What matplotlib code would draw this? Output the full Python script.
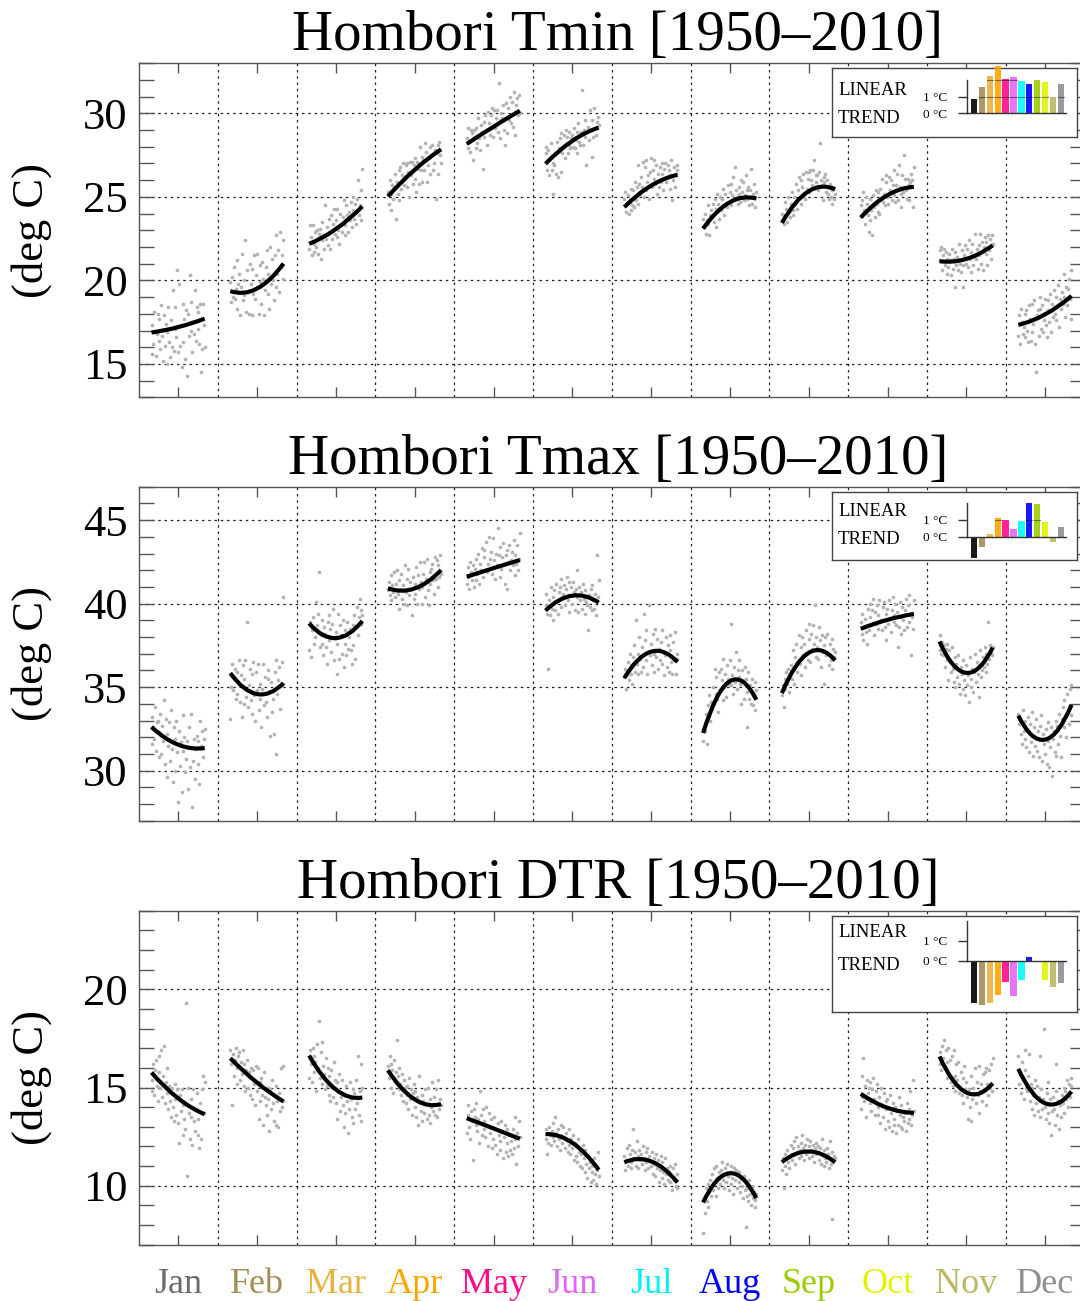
import numpy as np
import matplotlib
matplotlib.use("Agg")
import matplotlib.pyplot as plt
from matplotlib.ticker import MultipleLocator
from matplotlib.path import Path
from matplotlib.patches import PathPatch

plt.rcParams['font.family'] = ['Liberation Serif', 'DejaVu Serif']

MONTHS = ["Jan", "Feb", "Mar", "Apr", "May", "Jun",
          "Jul", "Aug", "Sep", "Oct", "Nov", "Dec"]
BAR_COLORS = ["#000000", "#a38d55", "#e9b13f", "#ffa500", "#ff0a88", "#e066f5",
              "#00ffff", "#0000ff", "#9acd00", "#e2f200", "#bdb863", "#909090"]
LABEL_COLORS = ["#6b6b6b", "#a38d55", "#e9b13f", "#ffa500", "#ff0a88", "#e066f5",
                "#00f0f0", "#0000ff", "#9acd00", "#e2f200", "#bdb863", "#909090"]

YEARS = list(range(1950, 2011))
FIT_YEARS = [1950, 1980, 2010]

# monthly means per year (deg C), one list per month
TMIN_OBS = [
    [15.6, 17.3, 16.2, 18.1, 17.0, 15.5, 16.8, 18.0, 16.4, 17.7, 15.9, 18.5, 16.7, 15.2, 17.9, 16.1, 17.4, 15.0, 16.9, 18.4,
     16.3, 15.4, 17.6, 16.0, 19.4, 15.8, 18.4, 17.1, 16.6, 20.6, 15.7, 19.8, 16.1, 17.3, 14.8, 18.6, 16.3, 17.7, 15.3, 18.2,
     14.3, 18.0, 16.7, 20.3, 17.0, 18.7, 15.7, 17.5, 16.8, 19.4, 16.4, 18.4, 17.1, 18.1, 16.2, 18.6, 14.5, 15.9, 18.6, 17.3, 16.0],
    [19.9, 18.7, 20.2, 19.0, 20.8, 18.9, 19.5, 21.2, 18.3, 19.8, 20.4, 17.9, 19.6, 21.6, 18.8, 20.0, 19.1, 22.4, 18.1, 20.6,
     19.3, 18.0, 21.0, 19.8, 17.9, 20.7, 19.2, 21.5, 18.9, 20.3, 21.6, 19.6, 18.0, 20.9, 19.9, 18.6, 21.1, 20.1, 17.9, 19.4,
     20.8, 21.8, 19.2, 20.4, 18.3, 22.0, 19.8, 21.3, 20.0, 18.8, 21.5, 19.6, 22.7, 20.4, 21.8, 19.3, 22.9, 20.8, 21.5, 20.1, 22.4],
    [21.9, 23.3, 22.6, 21.5, 23.3, 22.2, 21.7, 22.9, 22.0, 23.0, 21.6, 22.8, 23.1, 21.3, 22.4, 23.5, 22.7, 21.9, 24.5, 22.5,
     23.2, 22.1, 23.7, 22.9, 21.9, 23.9, 22.5, 23.4, 24.3, 22.8, 23.6, 22.6, 24.3, 23.0, 22.2, 24.0, 23.4, 22.9, 23.8, 24.8,
     23.3, 22.7, 24.5, 23.9, 22.9, 24.1, 23.6, 24.7, 23.2, 24.2, 25.0, 23.7, 24.6, 23.4, 24.9, 26.0, 23.9, 24.5, 25.4, 23.6, 26.7],
    [25.3, 24.6, 26.0, 25.2, 24.2, 25.7, 24.9, 25.6, 26.4, 23.7, 25.9, 25.2, 26.6, 24.8, 26.8, 25.5, 26.3, 27.0, 25.7, 26.2,
     26.9, 25.6, 27.0, 26.5, 25.0, 27.1, 26.3, 27.1, 25.8, 26.9, 26.1, 27.3, 25.3, 27.1, 26.7, 25.8, 28.0, 26.6, 27.4, 25.9,
     27.2, 26.6, 28.2, 27.7, 25.9, 26.9, 27.3, 28.0, 26.4, 27.5, 28.1, 26.6, 27.0, 27.8, 24.9, 27.6, 28.1, 26.4, 28.3, 27.5, 27.0],
    [28.5, 27.9, 29.1, 28.3, 27.7, 29.0, 28.8, 27.2, 29.0, 28.6, 29.1, 27.9, 28.2, 29.7, 28.5, 27.8, 29.3, 28.9, 26.7, 29.5,
     28.6, 29.9, 29.0, 28.1, 30.1, 29.4, 28.7, 29.9, 30.3, 29.2, 28.6, 30.2, 29.1, 29.7, 30.2, 28.9, 31.8, 29.6, 28.5, 30.0,
     29.7, 30.5, 29.0, 28.1, 30.6, 29.8, 28.8, 30.3, 29.6, 31.0, 29.4, 30.7, 29.2, 31.3, 30.1, 28.7, 30.5, 30.9, 29.9, 31.1, 30.0],
    [28.0, 27.6, 26.6, 27.8, 26.3, 27.3, 28.2, 26.6, 25.2, 27.0, 26.9, 27.6, 26.4, 28.3, 26.2, 27.9, 28.5, 26.5, 28.8, 27.6,
     28.0, 28.7, 27.3, 29.0, 28.6, 27.6, 28.9, 28.1, 27.9, 28.5, 28.7, 28.0, 29.1, 27.9, 28.4, 28.9, 27.6, 29.4, 28.3, 28.1,
     28.9, 31.4, 28.1, 29.0, 28.6, 29.6, 26.9, 28.9, 29.2, 28.4, 30.2, 29.0, 27.4, 29.6, 28.6, 30.3, 29.1, 28.7, 29.5, 29.8, 29.3],
    [24.9, 25.3, 24.1, 24.6, 25.1, 24.0, 24.7, 25.5, 24.2, 24.5, 25.4, 24.4, 25.9, 24.8, 25.6, 26.9, 24.6, 25.8, 25.2, 26.2,
     25.6, 27.1, 25.0, 26.8, 25.4, 27.2, 25.9, 26.3, 24.9, 26.5, 27.3, 25.6, 26.6, 26.1, 27.2, 25.8, 26.9, 25.2, 26.4, 25.6,
     26.8, 25.9, 27.0, 26.4, 25.4, 26.7, 27.0, 25.9, 26.2, 26.9, 26.6, 25.5, 26.3, 27.2, 24.8, 26.0, 26.8, 25.6, 26.4, 26.9, 26.6],
    [23.7, 23.2, 24.0, 22.8, 23.6, 24.5, 23.4, 22.7, 23.9, 24.2, 23.8, 24.6, 23.5, 24.9, 23.2, 24.3, 25.2, 24.6, 23.7, 25.0,
     24.2, 24.9, 24.5, 25.5, 23.9, 25.2, 24.6, 24.4, 25.7, 24.7, 25.3, 25.8, 24.5, 25.1, 26.2, 24.9, 26.8, 25.4, 25.0, 24.6,
     25.6, 25.2, 24.7, 26.0, 25.3, 25.9, 24.8, 25.1, 26.3, 25.4, 24.9, 25.6, 24.5, 25.4, 26.7, 24.6, 25.2, 25.8, 24.4, 25.0, 25.3],
    [24.0, 23.6, 23.4, 24.7, 23.9, 24.3, 23.5, 25.0, 24.1, 23.8, 24.6, 25.3, 24.2, 23.9, 25.0, 24.6, 25.8, 24.3, 25.4, 26.2,
     25.0, 26.0, 24.6, 25.6, 26.4, 25.1, 24.9, 26.5, 25.5, 26.1, 26.5, 25.3, 26.6, 26.0, 25.7, 26.6, 27.2, 25.6, 26.3, 25.9,
     26.3, 25.4, 26.5, 28.2, 26.0, 25.7, 24.8, 26.2, 25.9, 26.4, 25.3, 26.0, 25.2, 24.9, 25.8, 25.0, 24.6, 25.4, 25.6, 24.9, 25.2],
    [24.5, 23.9, 24.8, 25.3, 24.2, 23.4, 25.0, 24.6, 23.9, 22.9, 23.6, 24.9, 24.2, 22.7, 25.1, 24.4, 23.8, 25.4, 24.6, 24.1,
     25.3, 24.0, 25.5, 24.9, 26.1, 24.7, 25.2, 24.5, 25.9, 26.3, 25.0, 24.6, 26.2, 25.4, 26.0, 24.8, 25.7, 26.6, 25.1, 24.7,
     25.7, 26.4, 24.8, 26.9, 25.6, 25.2, 24.4, 26.3, 25.3, 27.5, 26.1, 25.4, 24.9, 26.1, 25.7, 24.8, 25.9, 26.4, 26.0, 24.4, 26.8],
    [21.8, 21.2, 22.0, 20.6, 21.5, 21.9, 20.9, 21.7, 20.4, 21.3, 20.8, 21.6, 21.2, 20.3, 21.9, 20.7, 21.3, 19.6, 21.7, 20.9,
     21.4, 20.6, 22.2, 21.0, 20.5, 21.8, 20.9, 19.6, 21.5, 22.1, 21.0, 21.9, 20.8, 22.4, 21.3, 20.5, 21.7, 22.2, 20.9, 21.4,
     22.8, 21.3, 21.9, 20.7, 22.1, 21.5, 22.8, 21.0, 22.3, 20.6, 22.0, 22.6, 21.6, 22.3, 20.9, 22.7, 21.8, 22.5, 21.3, 22.7, 22.2],
    [16.7, 17.9, 16.2, 18.3, 17.5, 16.8, 17.2, 18.0, 16.6, 18.2, 17.0, 16.3, 18.5, 17.7, 16.4, 18.6, 16.9, 17.4, 18.8, 16.2,
     14.5, 17.9, 18.2, 16.7, 18.3, 19.0, 17.1, 18.5, 16.9, 17.6, 18.9, 17.3, 16.6, 18.8, 18.2, 17.5, 19.2, 16.9, 18.6, 17.8,
     19.4, 18.0, 17.6, 19.0, 18.4, 19.7, 17.2, 18.9, 18.3, 19.3, 18.6, 20.4, 19.0, 17.8, 19.6, 18.5, 19.5, 20.1, 18.9, 17.7, 20.6],
]

TMAX_OBS = [
    [31.6, 33.2, 32.6, 31.9, 33.8, 31.2, 32.9, 33.0, 30.8, 32.3, 33.4, 31.0, 32.7, 31.8, 34.2, 30.4, 33.1, 32.2, 29.6, 31.5,
     32.9, 30.6, 33.6, 31.3, 29.3, 32.6, 31.9, 30.0, 33.0, 31.1, 28.1, 32.4, 30.3, 31.7, 28.7, 33.3, 31.2, 32.0, 29.9, 30.7,
     31.8, 28.9, 32.6, 30.2, 31.4, 33.4, 27.8, 30.6, 31.9, 29.5, 31.3, 32.1, 30.4, 31.8, 29.2, 33.0, 31.5, 32.4, 30.8, 31.9, 32.5],
    [33.1, 35.0, 36.4, 34.8, 35.6, 36.1, 34.3, 35.9, 34.6, 35.3, 36.6, 34.1, 35.7, 33.2, 36.3, 34.0, 35.5, 36.6, 34.4, 38.9,
     33.8, 35.1, 36.1, 34.2, 33.4, 35.8, 36.5, 34.5, 33.0, 35.9, 34.8, 36.4, 33.6, 34.3, 35.2, 32.6, 34.9, 36.4, 33.9, 35.6,
     34.1, 33.2, 35.5, 36.0, 34.7, 32.1, 35.3, 33.5, 34.3, 32.2, 35.9, 31.0, 36.6, 34.6, 35.4, 36.2, 33.7, 35.1, 36.5, 35.2, 40.4],
    [37.2, 38.9, 36.8, 38.4, 39.2, 37.6, 38.5, 38.0, 40.1, 38.7, 39.4, 41.9, 37.4, 38.1, 39.0, 37.6, 36.9, 38.6, 38.2, 37.4,
     36.4, 38.9, 37.8, 39.3, 38.5, 37.1, 38.8, 39.7, 36.6, 37.9, 38.3, 35.8, 37.6, 39.4, 36.7, 38.7, 38.1, 37.0, 39.0, 36.2,
     38.4, 37.6, 36.9, 38.9, 37.3, 38.0, 38.5, 37.2, 36.4, 38.7, 37.5, 39.3, 36.7, 38.6, 39.8, 38.1, 39.2, 40.3, 38.8, 39.6, 39.3],
    [40.8, 41.3, 40.5, 41.7, 40.2, 41.1, 40.7, 41.9, 40.4, 41.2, 42.0, 40.6, 41.4, 39.7, 40.9, 41.8, 40.3, 41.1, 40.0, 42.3,
     40.7, 41.5, 39.9, 42.1, 40.5, 41.3, 40.9, 39.3, 41.6, 40.3, 41.2, 40.6, 42.2, 40.0, 41.7, 40.9, 42.5, 41.3, 40.0, 41.0,
     41.8, 42.5, 40.4, 41.5, 42.7, 40.8, 39.9, 41.9, 41.2, 42.1, 42.4, 41.4, 40.6, 42.8, 41.5, 42.6, 41.0, 42.3, 41.6, 42.9, 41.8],
    [41.2, 42.2, 41.6, 40.9, 42.5, 41.9, 41.4, 42.3, 41.0, 42.1, 42.7, 41.4, 41.8, 43.0, 41.2, 42.4, 42.0, 43.3, 41.6, 42.8,
     43.2, 42.0, 43.7, 41.9, 42.4, 44.0, 42.7, 43.1, 41.8, 42.2, 43.9, 42.6, 41.5, 43.0, 42.3, 44.5, 42.9, 41.6, 43.4, 42.1,
     42.8, 43.6, 42.4, 41.2, 42.9, 43.2, 40.9, 42.5, 43.5, 42.0, 42.6, 43.1, 42.3, 43.8, 41.7, 42.9, 42.4, 43.5, 42.0, 42.7, 44.2],
    [39.9, 40.6, 39.4, 36.1, 40.2, 39.3, 41.0, 39.7, 40.4, 39.0, 40.8, 39.6, 41.2, 40.1, 39.4, 40.7, 41.0, 39.8, 41.5, 40.3,
     40.6, 41.1, 39.9, 40.9, 41.6, 40.2, 39.5, 41.3, 40.5, 41.0, 40.0, 41.3, 40.7, 39.6, 40.9, 42.0, 40.4, 39.5, 41.0, 40.2,
     40.7, 39.7, 41.2, 40.3, 39.4, 40.8, 40.1, 39.9, 38.4, 40.5, 39.8, 40.9, 39.6, 41.1, 40.2, 39.7, 40.6, 39.3, 42.9, 40.4, 41.4],
    [35.6, 36.1, 34.9, 35.7, 36.5, 35.4, 37.0, 35.8, 36.3, 35.2, 36.8, 37.5, 35.9, 39.0, 36.4, 37.0, 35.8, 38.0, 36.7, 35.9,
     37.4, 36.2, 39.4, 37.8, 36.6, 38.4, 35.8, 37.1, 39.9, 36.9, 37.6, 36.3, 38.2, 37.0, 35.9, 38.5, 36.8, 37.9, 36.1, 37.3,
     36.6, 37.7, 38.4, 36.4, 37.1, 35.7, 36.9, 38.0, 36.2, 37.5, 35.9, 37.2, 38.1, 36.5, 35.8, 37.7, 36.6, 38.3, 35.8, 36.7, 37.0],
    [31.8, 32.6, 32.4, 33.4, 31.6, 33.9, 33.2, 34.5, 33.0, 34.1, 33.7, 35.0, 34.0, 36.1, 34.6, 35.6, 34.3, 33.5, 35.9, 34.8,
     36.1, 35.4, 34.2, 36.7, 35.0, 35.8, 34.4, 36.3, 35.5, 35.2, 36.6, 35.1, 38.8, 35.7, 34.6, 36.2, 35.3, 37.1, 34.9, 36.0,
     35.6, 36.6, 35.2, 34.0, 36.0, 35.4, 34.3, 36.2, 35.5, 34.7, 32.6, 35.9, 34.3, 35.1, 34.0, 35.5, 33.9, 34.6, 35.3, 33.6, 34.8],
    [34.5, 35.1, 33.8, 35.5, 34.9, 35.9, 35.2, 36.1, 34.7, 35.8, 36.3, 35.5, 37.2, 36.0, 35.2, 36.8, 37.6, 35.9, 36.5, 38.1,
     36.4, 37.4, 35.7, 38.0, 36.9, 37.6, 36.2, 38.4, 37.0, 36.6, 37.9, 38.8, 36.5, 38.2, 37.3, 38.7, 37.6, 39.9, 36.8, 38.0,
     37.4, 36.7, 38.6, 37.8, 36.2, 38.1, 37.1, 35.2, 37.5, 38.0, 36.9, 38.2, 37.0, 36.3, 37.6, 36.6, 37.9, 36.1, 37.3, 36.8, 37.1],
    [38.9, 38.2, 39.4, 37.8, 38.6, 39.1, 38.3, 37.6, 39.7, 38.4, 39.2, 40.0, 38.7, 39.6, 40.3, 38.1, 39.5, 38.8, 39.9, 38.5,
     39.3, 40.2, 38.9, 39.0, 38.4, 39.8, 40.1, 38.6, 39.4, 37.8, 39.7, 38.8, 40.2, 39.1, 38.3, 39.6, 40.4, 38.9, 39.3, 40.0,
     38.7, 39.5, 37.4, 38.6, 40.1, 39.2, 38.2, 39.8, 39.0, 38.4, 39.6, 40.3, 38.6, 39.9, 38.9, 40.5, 39.4, 36.9, 39.2, 38.5, 40.2],
    [37.2, 38.1, 37.0, 37.7, 36.9, 37.5, 36.2, 37.3, 36.6, 37.6, 35.4, 37.2, 36.5, 35.9, 37.4, 36.1, 35.3, 36.8, 35.0, 36.4,
     35.6, 36.9, 35.2, 34.6, 36.2, 35.8, 34.9, 36.6, 35.4, 34.5, 36.3, 35.1, 35.7, 34.1, 36.8, 35.5, 35.0, 36.1, 34.7, 35.9,
     37.0, 35.3, 36.5, 35.8, 34.4, 36.3, 37.2, 35.6, 36.0, 36.8, 36.2, 37.4, 35.9, 37.0, 36.4, 38.9, 36.7, 37.5, 37.1, 36.9, 37.4],
    [33.4, 32.8, 33.1, 32.2, 31.6, 33.6, 32.4, 31.9, 33.0, 31.4, 32.5, 33.2, 31.1, 32.8, 31.7, 33.5, 32.1, 30.9, 32.6, 31.5,
     33.1, 31.2, 32.4, 30.8, 32.7, 31.9, 33.3, 30.6, 32.2, 31.6, 31.0, 32.5, 30.4, 31.8, 32.9, 30.2, 31.4, 32.6, 29.7, 31.9,
     32.4, 31.1, 33.0, 30.9, 32.7, 31.6, 33.4, 32.1, 30.8, 33.1, 33.8, 32.6, 34.2, 33.2, 32.0, 34.6, 33.5, 32.8, 34.9, 33.3, 35.1],
]

DTR_OBS = [
    [14.8, 15.4, 16.2, 14.6, 15.9, 16.4, 15.1, 14.3, 15.8, 16.6, 15.0, 16.9, 14.5, 15.6, 17.1, 14.2, 15.3, 16.0, 14.7, 13.9,
     15.1, 14.3, 13.5, 15.0, 14.0, 13.3, 14.4, 15.2, 13.6, 14.9, 13.2, 12.2, 14.6, 13.8, 14.9, 12.6, 14.1, 13.4, 12.9, 19.3,
     10.5, 15.0, 13.7, 12.4, 14.4, 13.5, 12.1, 14.9, 13.3, 12.8, 13.9, 14.7, 12.6, 13.4, 11.9, 14.2, 12.4, 14.9, 15.6, 13.7, 15.3],
    [16.9, 16.2, 14.1, 16.7, 15.6, 16.4, 17.0, 16.0, 15.2, 16.6, 16.8, 15.4, 16.3, 15.7, 16.9, 15.1, 16.2, 14.8, 15.9, 16.4,
     15.0, 15.8, 14.6, 16.0, 15.5, 14.4, 15.9, 15.2, 14.1, 16.1, 14.8, 16.0, 13.4, 15.3, 14.3, 15.5, 14.6, 13.1, 15.8, 14.5,
     14.1, 13.6, 15.0, 14.4, 12.8, 14.9, 13.9, 15.4, 14.2, 13.3, 14.6, 13.1, 15.1, 14.3, 13.0, 14.7, 13.8, 16.0, 14.0, 16.1, 14.3],
    [15.5, 16.9, 16.2, 15.3, 17.0, 16.6, 15.8, 16.3, 14.8, 17.2, 16.0, 18.4, 15.5, 16.8, 15.2, 17.3, 16.1, 15.7, 14.9, 16.5,
     15.1, 16.0, 14.6, 15.6, 14.3, 15.9, 15.0, 14.5, 16.3, 15.4, 14.2, 15.3, 13.4, 14.8, 15.7, 13.8, 14.5, 15.4, 14.1, 13.0,
     14.6, 13.7, 15.1, 14.3, 12.7, 13.9, 15.3, 14.4, 13.5, 14.9, 13.2, 14.7, 13.9, 15.4, 14.2, 16.6, 13.6, 14.8, 13.3, 16.2, 15.0],
    [16.1, 15.5, 16.6, 15.0, 16.2, 15.9, 14.7, 16.4, 15.3, 15.8, 17.4, 15.6, 14.9, 16.0, 15.2, 14.6, 15.7, 14.3, 15.4, 15.0,
     14.2, 15.1, 14.6, 13.9, 15.5, 14.4, 14.9, 13.6, 14.7, 15.2, 14.0, 14.8, 13.5, 14.5, 13.1, 15.6, 14.2, 13.8, 14.6, 13.3,
     14.3, 13.7, 14.9, 14.1, 13.4, 15.0, 13.6, 14.4, 13.2, 14.0, 15.3, 13.8, 14.5, 13.6, 14.9, 13.5, 14.2, 15.4, 13.9, 14.4, 14.1],
    [12.7, 13.6, 14.1, 13.0, 12.4, 13.8, 13.3, 11.3, 13.9, 13.5, 13.1, 14.2, 12.8, 13.4, 12.2, 14.8, 13.6, 12.6, 13.9, 12.9,
     13.3, 12.5, 14.0, 13.1, 12.0, 13.7, 12.7, 13.4, 11.9, 13.0, 12.4, 13.5, 12.1, 12.9, 11.6, 13.2, 12.6, 12.3, 11.8, 13.3,
     12.8, 11.4, 12.5, 13.1, 11.7, 12.2, 12.9, 11.5, 12.6, 11.8, 12.3, 11.6, 12.9, 11.9, 13.5, 12.4, 11.1, 12.7, 12.0, 13.3, 12.5],
    [12.4, 12.9, 11.6, 12.2, 13.0, 12.6, 12.1, 12.8, 12.5, 13.2, 12.3, 13.5, 12.7, 12.0, 12.9, 12.4, 11.8, 13.1, 12.6, 12.2,
     13.0, 12.5, 11.9, 12.7, 12.3, 11.7, 12.9, 12.1, 11.6, 12.4, 11.9, 12.6, 11.3, 12.2, 11.5, 12.0, 11.2, 12.4, 11.7, 11.0,
     11.6, 10.9, 12.1, 11.4, 10.7, 11.8, 11.1, 10.4, 11.5, 10.9, 11.2, 10.2, 10.7, 11.0, 10.3, 11.4, 10.6, 10.1, 10.8, 11.7, 10.5],
    [11.5, 10.8, 11.3, 11.9, 11.0, 12.1, 11.6, 11.2, 10.9, 11.8, 12.9, 11.4, 11.7, 11.0, 12.3, 11.5, 10.9, 11.8, 11.3, 11.6,
     11.1, 12.0, 11.4, 10.8, 11.7, 11.2, 11.9, 10.9, 11.5, 11.3, 11.0, 11.7, 10.6, 11.4, 11.1, 10.5, 11.6, 10.9, 11.3, 10.2,
     10.8, 11.5, 10.4, 11.2, 10.7, 10.1, 11.4, 10.6, 10.9, 10.3, 10.7, 10.2, 11.0, 10.5, 9.8, 10.9, 10.3, 11.1, 10.0, 10.6, 9.9],
    [7.6, 9.4, 8.6, 9.9, 9.2, 10.1, 8.9, 9.7, 10.3, 9.5, 10.6, 9.8, 10.9, 10.2, 9.5, 11.0, 10.4, 9.9, 10.7, 10.1,
     10.8, 11.2, 10.3, 10.6, 9.9, 10.9, 10.2, 11.1, 10.5, 9.8, 10.7, 10.1, 11.0, 10.4, 9.6, 10.9, 10.3, 10.8, 9.9, 10.6,
     10.2, 10.7, 9.7, 10.4, 10.0, 9.4, 10.5, 9.8, 7.9, 9.5, 9.9, 9.2, 10.3, 9.6, 9.0, 10.0, 9.4, 9.7, 8.9, 9.3, 9.6],
    [10.8, 11.4, 9.9, 11.6, 11.0, 10.6, 11.8, 11.2, 10.9, 11.5, 12.1, 11.3, 11.9, 11.6, 12.3, 11.1, 12.5, 11.7, 12.0, 11.4,
     11.8, 12.2, 11.5, 12.6, 11.9, 11.3, 12.1, 11.6, 12.4, 11.7, 12.0, 11.4, 12.3, 11.8, 11.5, 12.1, 11.2, 11.9, 12.2, 11.6,
     11.7, 12.0, 11.3, 11.9, 11.1, 12.4, 11.5, 11.0, 11.8, 11.4, 11.2, 11.9, 11.6, 10.9, 12.3, 11.1, 11.7, 8.3, 11.3, 11.5, 11.4],
    [13.9, 15.6, 14.5, 16.5, 14.3, 15.1, 13.5, 15.4, 14.7, 15.0, 15.3, 14.2, 13.8, 14.9, 15.5, 14.4, 13.6, 14.8, 15.2, 14.0,
     13.6, 14.5, 13.2, 15.0, 14.1, 13.5, 14.7, 12.9, 14.3, 13.9, 14.4, 13.3, 13.0, 14.6, 13.7, 12.8, 14.2, 13.4, 13.1, 14.0,
     12.7, 13.8, 13.1, 14.5, 13.6, 13.0, 14.1, 12.9, 13.5, 13.3, 13.7, 12.8, 14.2, 13.2, 13.9, 13.4, 14.8, 13.1, 13.6, 15.4, 13.8],
    [16.2, 16.8, 15.9, 17.1, 16.5, 17.4, 16.0, 16.9, 15.5, 16.3, 17.0, 15.7, 16.4, 15.3, 16.6, 15.1, 16.9, 15.6, 14.8, 16.2,
     15.4, 16.3, 14.7, 15.0, 15.8, 14.6, 14.2, 15.5, 16.1, 14.9, 15.3, 14.5, 13.4, 14.9, 14.0, 15.6, 13.3, 14.4, 15.0, 14.7,
     16.0, 14.2, 15.3, 14.6, 13.7, 16.1, 14.8, 15.2, 14.3, 15.7, 14.9, 15.8, 14.1, 16.0, 15.2, 14.6, 15.9, 15.0, 16.2, 14.8, 16.5],
    [16.6, 15.2, 15.8, 14.7, 16.3, 15.5, 14.4, 15.9, 16.9, 15.0, 14.8, 15.6, 16.7, 14.3, 15.2, 13.9, 15.0, 14.6, 13.6, 15.4,
     14.2, 15.1, 13.8, 14.5, 16.6, 13.5, 14.9, 13.9, 14.4, 18.0, 14.0, 13.4, 14.7, 13.7, 15.3, 13.2, 14.4, 12.6, 13.8, 14.5,
     13.9, 13.1, 14.8, 16.2, 13.6, 14.3, 12.9, 14.1, 13.5, 14.6, 14.2, 15.0, 13.7, 14.8, 14.4, 15.4, 14.0, 15.2, 14.5, 15.1, 15.5],
]

# quadratic fit per month: values in 1950, 1980 and 2010
TMIN_FIT = [
    [16.88, 17.20, 17.71], [19.36, 19.50, 21.01], [22.19, 23.06, 24.43], [25.03, 26.62, 27.85],
    [28.17, 29.20, 30.16], [26.98, 28.35, 29.15], [24.39, 25.67, 26.32], [23.10, 24.68, 24.90],
    [23.44, 25.34, 25.45], [23.76, 25.10, 25.60], [21.15, 21.28, 22.10], [17.34, 17.95, 19.07],
]
TMAX_FIT = [
    [32.61, 31.55, 31.35], [35.84, 34.58, 35.24], [38.82, 37.93, 38.96], [40.92, 40.90, 42.01],
    [41.61, 42.12, 42.61], [39.58, 40.48, 40.06], [35.54, 37.12, 36.50], [32.25, 35.35, 34.24],
    [34.64, 37.05, 36.60], [38.49, 39.03, 39.38], [37.73, 35.85, 37.37], [33.29, 31.85, 33.94],
]
DTR_FIT = [
    [15.76, 14.45, 13.64], [16.49, 15.25, 14.29], [16.63, 14.90, 14.49], [15.88, 14.40, 14.15],
    [13.44, 12.92, 12.39], [12.63, 12.20, 10.81], [11.19, 11.25, 10.17], [9.15, 10.64, 9.37],
    [11.20, 11.75, 11.19], [14.68, 13.97, 13.71], [16.58, 14.75, 15.22], [15.95, 14.20, 14.80],
]

# linear trend over the period, deg C
TMIN_TREND = [0.84, 1.60, 2.26, 2.84, 2.04, 2.20, 1.94, 1.76, 1.98, 1.88, 1.00, 1.74]
TMAX_TREND = [-1.30, -0.60, 0.14, 1.10, 0.98, 0.44, 0.96, 2.00, 1.94, 0.90, -0.34, 0.60]
DTR_TREND = [-2.13, -2.22, -2.10, -1.73, -1.05, -1.77, -0.98, 0.20, 0.0, -0.98, -1.33, -1.13]

W, H = 1080, 1301
fig = plt.figure(figsize=(W / 100, H / 100), dpi=100)


def px_axes(x0, y0, x1, y1):
    # axes from a pixel box measured from the top-left corner
    return fig.add_axes([x0 / W, 1 - y1 / H, (x1 - x0) / W, (y1 - y0) / H])


def slot(m, yrs):
    return m + 0.16 + 0.675 * (np.asarray(yrs) - 1950) / 60.0


def parabola(ax, m, vals):
    # a quadratic through start/middle/end is a quadratic Bezier
    x0, xm, x1 = slot(m, FIT_YEARS)
    y0, ym, y1 = vals
    ctrl = 2 * ym - 0.5 * (y0 + y1)
    path = Path([(x0, y0), (xm, ctrl), (x1, y1)],
                [Path.MOVETO, Path.CURVE3, Path.CURVE3])
    ax.add_patch(PathPatch(path, fill=False, ec="black", lw=3, capstyle="butt", zorder=3))


panels = [
    ("Hombori Tmin [1950\u20132010]", TMIN_OBS, TMIN_FIT, TMIN_TREND, (13, 33), 63.3, 69, (22, 50), 16.6),
    ("Hombori Tmax [1950\u20132010]", TMAX_OBS, TMAX_FIT, TMAX_TREND, (27, 47), 486.7, 68, (20, 48), 16.7),
    ("Hombori DTR [1950\u20132010]", DTR_OBS, DTR_FIT, DTR_TREND, (7, 24), 910.7, 96, (17, 50), 20.0),
]

for k, (title, obs, fit, trend, ylim, top, box_h, txt_y, scale) in enumerate(panels):
    ax = px_axes(138.9, top, 1084.5, top + 334)
    ax.set_xlim(0, 12)
    ax.set_ylim(*ylim)
    for m in range(12):
        ax.scatter(slot(m, YEARS), obs[m], s=7, color="#b3b3b3", lw=0, zorder=2)
        parabola(ax, m, fit[m])

    # dotted grid: month boundaries and every 5 deg
    for xb in range(1, 12):
        ax.axvline(xb, color="#222222", lw=0.9, ls=(0, (2, 3)), zorder=1)
    for yv in range(int(np.ceil(ylim[0] / 5)) * 5, ylim[1], 5):
        if ylim[0] < yv < ylim[1]:
            ax.axhline(yv, color="#222222", lw=0.9, ls=(0, (2, 3)), zorder=1)

    ax.yaxis.set_major_locator(MultipleLocator(5))
    ax.yaxis.set_minor_locator(MultipleLocator(1))
    ax.tick_params(axis="y", which="both", direction="in", length=10.8, width=1,
                   left=True, right=True, color="#555555", labelsize=32, pad=8)
    ax.set_xticks(np.arange(12) + 0.5)
    ax.tick_params(axis="x", direction="in", length=7.2, width=1, top=True,
                   bottom=True, color="#555555", labelsize=26, pad=17)
    if k == 2:
        ax.set_xticklabels(MONTHS)
        for lbl, c in zip(ax.get_xticklabels(), LABEL_COLORS):
            lbl.set_color(c)
    else:
        ax.set_xticklabels([])
    for sp in ax.spines.values():
        sp.set_color("#555555")
        sp.set_linewidth(1)

    fig.text(618 / W, 1 - (top - 13) / H, title, ha="center", va="baseline", fontsize=41)
    fig.text(32 / W, 1 - (top + 167) / H, "(deg C)", rotation=90, ha="center",
             va="center", fontsize=32)

    # trend inset
    box = px_axes(832, top + 5, 1077, top + 5 + box_h)
    box.set_xticks([])
    box.set_yticks([])
    for sp in box.spines.values():
        sp.set_color("#444444")
        sp.set_linewidth(1)
    box.set_xlim(0, 245)
    box.set_ylim(box_h, 0)
    box.text(6, txt_y[0], "LINEAR", fontsize=13.5, va="center", ha="left")
    box.text(6, txt_y[1], "TREND", fontsize=13.5, va="center", ha="left")

    zero = top + 50
    ba = px_axes(967, zero - 3 * scale, 1065.5, zero + 2.5 * scale)
    ba.patch.set_alpha(0)
    ba.set_xlim(-0.9, 11.6)
    ba.set_ylim(-2.5, 3)
    xs = np.arange(12)
    ba.bar(xs, trend, width=0.8, color=BAR_COLORS, alpha=0.9, zorder=2, clip_on=False)
    for lev in (1, 2):
        for x, v in zip(xs, trend):
            if v > lev:
                ba.plot([x - 0.4, x + 0.4], [lev, lev], color="black", lw=0.8,
                        alpha=0.45, zorder=3, clip_on=False)
    ba.spines["top"].set_visible(False)
    ba.spines["right"].set_visible(False)
    ba.spines["bottom"].set_position(("data", 0))
    ba.spines["left"].set_bounds(0, 2)
    for sp in ("bottom", "left"):
        ba.spines[sp].set_color("#333333")
        ba.spines[sp].set_linewidth(1)
    ba.set_xticks([])
    ba.set_yticks([0, 1])
    ba.set_yticklabels(["0 \u00b0C", "1 \u00b0C"])
    ba.tick_params(axis="y", direction="out", length=6.5, width=1, pad=8,
                   labelsize=9.5, color="#333333")

fig.savefig("out.png", dpi=100)
